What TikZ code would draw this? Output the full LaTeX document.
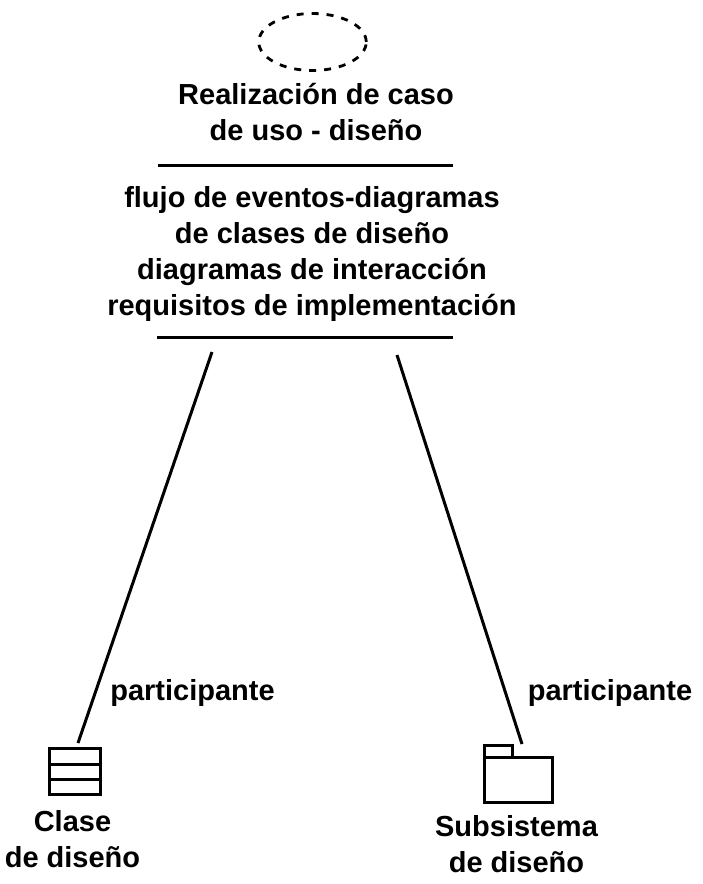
\documentclass[tikz,border=0pt]{standalone}
\usepackage{fontspec}
\setmainfont{Liberation Sans}
\usetikzlibrary{shapes.geometric}
\tikzset{
  lbl/.style={font=\fontsize{29}{36}\selectfont\bfseries, align=center, inner sep=0pt, text=black},
  ln/.style={line width=3pt, black},
  iconline/.style={line width=3pt, black},
}
\begin{document}
\begin{tikzpicture}[x=1pt,y=-1pt]
\useasboundingbox (0,0) rectangle (703,884);
\fill[white] (0,0) rectangle (703,884);
% use case realization
\node[ellipse, draw=black, line width=2.8pt, dash pattern=on 7pt off 8pt, minimum width=107.5pt, minimum height=57pt, inner sep=0pt, outer sep=0pt] (uc) at (312.5,42) {};
\node[lbl] (title) at (316,112.5) {Realización de caso\\de uso - diseño};
\coordinate (r1a) at (158,165);
\coordinate (r1b) at (453,165);
\draw[ln] (r1a) -- (r1b);
\node[lbl] (body) at (312,253.5) {flujo de eventos-diagramas\\de clases de diseño\\diagramas de interacción\\requisitos de implementación};
\coordinate (r2a) at (157,337);
\coordinate (r2b) at (453,337);
\draw[ln] (r2a) -- (r2b);
% class icon
\node[draw=black, line width=3pt, minimum width=51pt, minimum height=46pt, inner sep=0pt, outer sep=0pt] (cls) at (75,771.5) {};
\draw[iconline] (cls.west |- 0,764) -- (cls.east |- 0,764);
\draw[iconline] (cls.west |- 0,779.5) -- (cls.east |- 0,779.5);
\node[lbl] (clsl) at (72.5,839.5) {Clase\\de diseño};
% folder icon
\node[draw=black, line width=3pt, minimum width=68pt, minimum height=45pt, inner sep=0pt, outer sep=0pt] (fold) at (518.5,779.5) {};
\draw[iconline, line join=miter] (484.5,757) -- (484.5,745.5) -- (512,745.5) -- (512,757);
\node[lbl] (foldl) at (516.5,844) {Subsistema\\de diseño};
% participants
\coordinate (a1) at (212,352);
\coordinate (a2) at (78,743);
\coordinate (b1) at (397,355);
\coordinate (b2) at (522,744);
\draw[ln] (a1) -- (a2);
\draw[ln] (b1) -- (b2);
\node[lbl] (p1) at (192.5,693) {participante};
\node[lbl] (p2) at (610,692.5) {participante};
\end{tikzpicture}
\end{document}
